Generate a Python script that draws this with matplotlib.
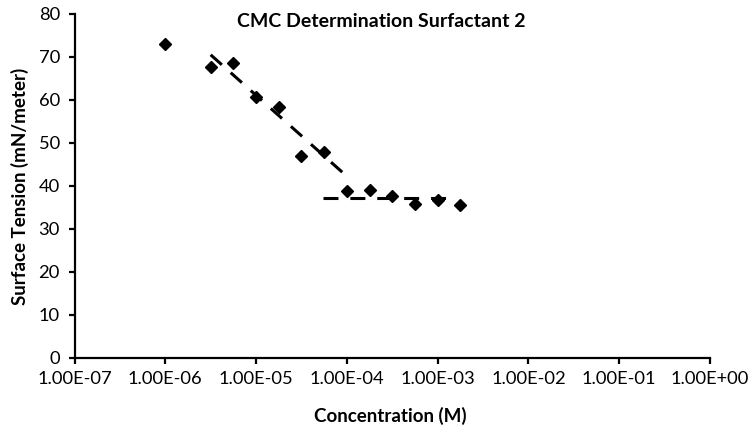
import matplotlib.pyplot as plt
import numpy as np

# data
conc = [1.0e-6, 3.16e-6, 5.6e-6, 1.0e-5, 1.78e-5, 3.16e-5, 5.6e-5,
        1.0e-4, 1.78e-4, 3.16e-4, 5.6e-4, 1.0e-3, 1.78e-3]
tension = [73.1, 67.7, 68.5, 60.6, 58.4, 47.0, 47.9,
           38.8, 38.9, 37.6, 35.8, 36.7, 35.6]

# fitted trend lines (end points)
fit1_x = [3.16e-6, 1.0e-4]
fit1_y = [70.5, 42.2]
fit2_x = [5.4e-5, 1.35e-3]
fit2_y = [37.2, 37.2]

xticks = [1e-7, 1e-6, 1e-5, 1e-4, 1e-3, 1e-2, 1e-1, 1e0]
xlabels = ["1.00E-07", "1.00E-06", "1.00E-05", "1.00E-04",
           "1.00E-03", "1.00E-02", "1.00E-01", "1.00E+00"]
yticks = [0, 10, 20, 30, 40, 50, 60, 70, 80]

plt.rcParams['font.family'] = ['Lato', 'DejaVu Sans']

W, H = 751, 429
fig = plt.figure(figsize=(W / 100, H / 100), dpi=100)
ax = fig.add_axes([74.5 / W, 1 - 357.5 / H, (710 - 74.5) / W, (357.5 - 14) / H])

ax.plot(fit1_x, fit1_y, color='black', lw=2.2, dashes=(4.9, 3.9))
ax.plot(fit2_x, fit2_y, color='black', lw=2.2, dashes=(4.9, 3.9))
ax.plot(conc, tension, 'D', color='black', markersize=6.3, linestyle='none')

ax.set_xscale('log')
ax.set_xlim(1e-7, 1e0)
ax.set_ylim(0, 80)
ax.set_xticks(xticks)
ax.set_xticklabels(xlabels)
ax.xaxis.set_minor_locator(plt.NullLocator())
ax.set_yticks(yticks)

for s in ['top', 'right']:
    ax.spines[s].set_visible(False)
for s in ['left', 'bottom']:
    ax.spines[s].set_linewidth(1.6)
ax.tick_params(axis='both', direction='out', length=4.5, width=1.6, labelsize=13.2)
ax.tick_params(axis='x', pad=5)
ax.tick_params(axis='y', pad=6)

fig.text(381 / W, 1 - 27 / H, 'CMC Determination Surfactant 2', ha='center', va='baseline',
         fontsize=14, fontweight='bold')
fig.text(390 / W, 1 - 422 / H, 'Concentration (M)', ha='center', va='baseline',
         fontsize=13.5, fontweight='bold')
fig.text(20 / W, 1 - 186 / H, 'Surface Tension (mN/meter)', ha='center', va='center',
         rotation=90, fontsize=13.5, fontweight='bold')

fig.savefig('out.png', dpi=100)
